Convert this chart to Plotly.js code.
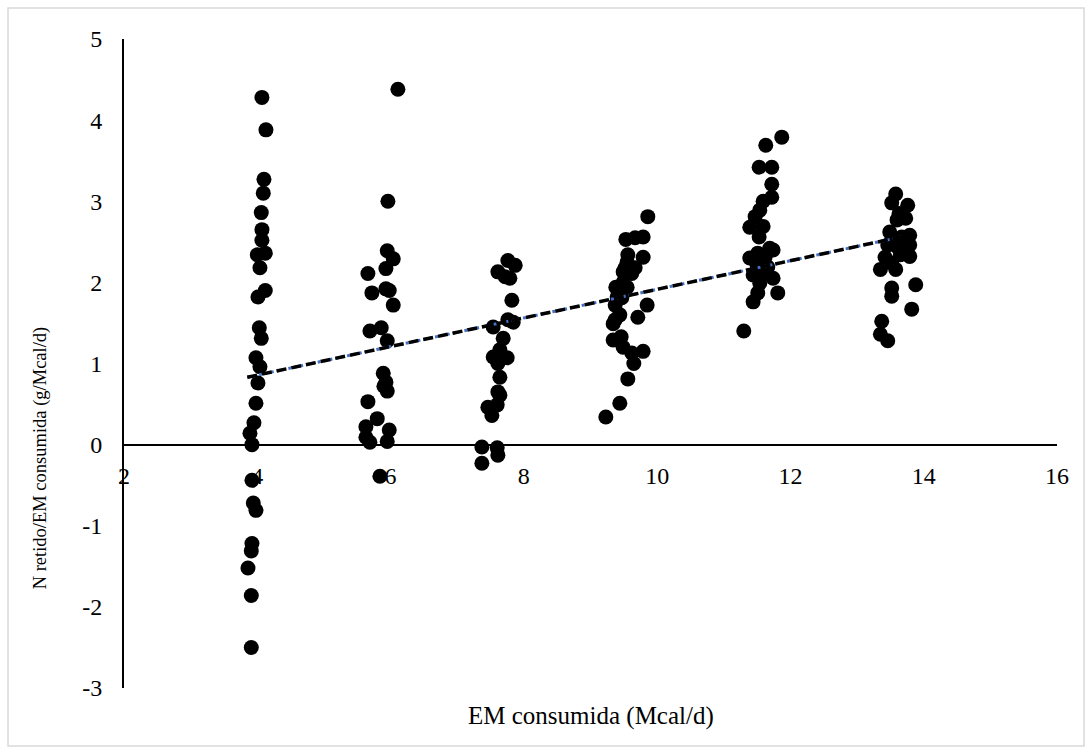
<!DOCTYPE html>
<html>
<head>
<meta charset="utf-8">
<script src="https://cdn.plot.ly/plotly-3.0.1.min.js"></script>
<style>html,body{margin:0;padding:0;background:#fff;}#chart{width:1092px;height:754px;}</style>
</head>
<body>
<div id="chart"></div>
<script>
// EM consumida (Mcal/d) and N retido/EM consumida (g/Mcal/d), grouped by intake level
const em_g1 = [4.07,4.13,4.10,4.09,4.06,4.07,4.07,4.00,4.12,4.04,4.01,4.12,4.03,4.06,3.98,4.04,4.01,3.98,3.95,3.89,3.92,3.92,3.94,3.98,3.92,3.91,3.86,3.91,3.91];
const nr_g1 = [4.28,3.88,3.27,3.10,2.86,2.65,2.52,2.34,2.36,2.18,1.82,1.90,1.44,1.31,1.07,0.96,0.76,0.51,0.27,0.14,0.00,-0.44,-0.72,-0.81,-1.22,-1.31,-1.52,-1.86,-2.50];

const em_g2 = [6.11,5.96,5.95,6.04,5.93,5.66,5.72,5.93,5.98,6.04,5.69,5.86,5.95,5.89,5.93,5.90,5.95,5.66,5.80,5.63,5.98,5.63,5.69,5.95,5.84];
const nr_g2 = [4.38,3.00,2.39,2.29,2.17,2.11,1.87,1.92,1.90,1.72,1.40,1.44,1.28,0.88,0.77,0.72,0.66,0.53,0.32,0.22,0.18,0.09,0.03,0.04,-0.39];

const em_g3 = [7.76,7.87,7.61,7.72,7.79,7.82,7.54,7.76,7.84,7.69,7.54,7.64,7.75,7.61,7.64,7.61,7.64,7.46,7.60,7.52,7.37,7.60,7.61,7.37];
const nr_g3 = [2.27,2.21,2.13,2.07,2.05,1.78,1.45,1.54,1.51,1.31,1.08,1.17,1.07,1.00,0.83,0.65,0.61,0.46,0.49,0.36,-0.03,-0.04,-0.13,-0.23];

const em_g4 = [9.86,9.53,9.67,9.79,9.56,9.79,9.55,9.52,9.67,9.49,9.62,9.49,9.38,9.55,9.40,9.47,9.37,9.85,9.44,9.71,9.37,9.34,9.34,9.46,9.49,9.79,9.62,9.65,9.56,9.44,9.23];
const nr_g4 = [2.81,2.53,2.55,2.56,2.34,2.31,2.25,2.18,2.18,2.13,2.11,2.00,1.94,1.94,1.82,1.81,1.72,1.72,1.60,1.57,1.54,1.49,1.29,1.33,1.20,1.15,1.13,1.00,0.81,0.51,0.34];

const em_g5 = [11.87,11.63,11.53,11.72,11.72,11.72,11.59,11.54,11.47,11.39,11.59,11.53,11.69,11.74,11.39,11.51,11.62,11.50,11.66,11.44,11.59,11.74,11.54,11.51,11.81,11.44,11.30];
const nr_g5 = [3.79,3.69,3.42,3.42,3.21,3.05,3.00,2.89,2.81,2.68,2.69,2.56,2.42,2.40,2.30,2.36,2.31,2.21,2.19,2.09,2.11,2.05,1.99,1.87,1.87,1.76,1.40];

const em_g6 = [13.58,13.52,13.76,13.63,13.60,13.73,13.49,13.79,13.54,13.67,13.46,13.79,13.60,13.42,13.65,13.79,13.35,13.58,13.52,13.88,13.52,13.52,13.82,13.37,13.35,13.46];
const nr_g6 = [3.09,2.98,2.95,2.85,2.77,2.79,2.62,2.58,2.55,2.56,2.46,2.46,2.44,2.31,2.34,2.32,2.16,2.16,2.24,1.97,1.93,1.83,1.67,1.52,1.36,1.28];

// Linear trendline end points
const trend_x = [3.85, 13.69];
const trend_y = [0.83, 2.565];

// Axis ticks and titles
const x_ticks = [2,4,6,8,10,12,14,16];
const y_ticks = [-3,-2,-1,0,1,2,3,4,5];
const x_title = 'EM consumida (Mcal/d)';
const y_title = 'N retido/EM consumida (g/Mcal/d)';

const allX = [].concat(em_g1, em_g2, em_g3, em_g4, em_g5, em_g6);
const allY = [].concat(nr_g1, nr_g2, nr_g3, nr_g4, nr_g5, nr_g6);

const FONT = 'Liberation Serif, Times New Roman, serif';

const traces = [
  {x: allX, y: allY, type: 'scatter', mode: 'markers',
   marker: {color: '#000000', size: 15, line: {width: 0}}, hoverinfo: 'x+y', showlegend: false},
  {x: trend_x, y: trend_y, type: 'scatter', mode: 'lines',
   line: {color: '#4472C4', width: 3, dash: 'dot'}, hoverinfo: 'skip', showlegend: false},
  {x: trend_x, y: trend_y, type: 'scatter', mode: 'lines',
   line: {color: '#000000', width: 3.5, dash: '10px,5px'}, hoverinfo: 'skip', showlegend: false}
];

const layout = {
  width: 1092, height: 754,
  margin: {l: 124, r: 35, t: 39, b: 66},
  paper_bgcolor: '#ffffff', plot_bgcolor: '#ffffff',
  font: {family: FONT, size: 24, color: '#000000'},
  showlegend: false,
  xaxis: {
    range: [2, 16], tickvals: x_ticks, ticktext: x_ticks.map(String),
    showgrid: false, zeroline: false, showline: true, linecolor: '#000000', linewidth: 2,
    ticks: '', anchor: 'free', position: 0.375, ticklabelstandoff: 10,
    tickfont: {family: FONT, size: 24, color: '#000000'}
  },
  yaxis: {
    range: [-3, 5], tickvals: y_ticks, ticktext: y_ticks.map(String),
    showgrid: false, zeroline: false, showline: true, linecolor: '#000000', linewidth: 2,
    ticks: '', ticklabelstandoff: 15,
    tickfont: {family: FONT, size: 24, color: '#000000'}
  },
  annotations: [
    {text: x_title, xref: 'paper', yref: 'paper', x: 0.5, y: -0.043,
     xanchor: 'center', yanchor: 'middle', showarrow: false,
     font: {family: FONT, size: 25, color: '#000000'}},
    {text: y_title, xref: 'paper', yref: 'paper', x: -0.09, y: 0.354,
     xanchor: 'center', yanchor: 'middle', textangle: -90, showarrow: false,
     font: {family: FONT, size: 18.5, color: '#000000'}}
  ],
  shapes: [
    {type: 'rect', xref: 'paper', yref: 'paper', x0: -0.1243, x1: 1.029, y0: -0.0894, y1: 1.0478,
     line: {color: '#d9d9d9', width: 1.5}, fillcolor: 'rgba(0,0,0,0)', layer: 'below'}
  ]
};

Plotly.newPlot('chart', traces, layout, {displayModeBar: false, staticPlot: true});
</script>
</body>
</html>
